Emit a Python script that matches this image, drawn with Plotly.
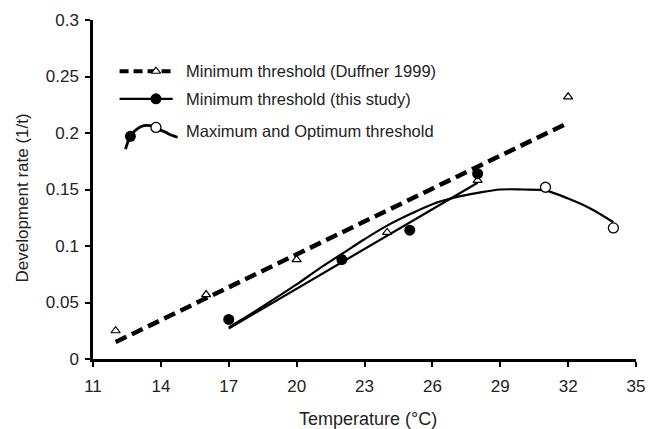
import plotly.graph_objects as go

# ---- data ----
temp_duffner = [12, 16, 20, 24, 28, 32]
rate_duffner = [0.025, 0.057, 0.088, 0.112, 0.158, 0.232]
fit_duffner_t = [12, 32]
fit_duffner_r = [0.015, 0.209]

temp_study = [17, 22, 25, 28]
rate_study = [0.035, 0.088, 0.114, 0.164]
fit_study_t = [17, 28]
fit_study_r = [0.027, 0.156]

temp_maxopt = [31, 34]
rate_maxopt = [0.152, 0.116]
curve_t = [17, 18, 19, 20, 21, 22, 23, 24, 25, 26, 27, 28, 29, 30, 31, 32, 33, 34]
curve_r = [0.028, 0.040, 0.053, 0.066, 0.080, 0.093, 0.106, 0.118, 0.128, 0.137,
           0.143, 0.147, 0.150, 0.150, 0.149, 0.142, 0.133, 0.121]

x_ticks = [11, 14, 17, 20, 23, 26, 29, 32, 35]
y_ticks = [0, 0.05, 0.1, 0.15, 0.2, 0.25, 0.3]
y_labels = ["0", "0.05", "0.1", "0.15", "0.2", "0.25", "0.3"]

legend_labels = ["Minimum threshold (Duffner 1999)",
                 "Minimum threshold (this study)",
                 "Maximum and Optimum threshold"]
x_title = "Temperature (°C)"
y_title = "Development rate (1/t)"

FONT = "Liberation Sans, Arial, sans-serif"
TXT = "#222222"

fig = go.Figure()

# fitted lines
fig.add_trace(go.Scatter(x=fit_duffner_t, y=fit_duffner_r, mode="lines",
                         line=dict(color="black", width=4.5, dash="12px,6px"),
                         showlegend=False))
fig.add_trace(go.Scatter(x=fit_study_t, y=fit_study_r, mode="lines",
                         line=dict(color="black", width=2.2), showlegend=False))
fig.add_trace(go.Scatter(x=curve_t, y=curve_r, mode="lines",
                         line=dict(color="black", width=2.2, shape="spline"),
                         showlegend=False))

# observations
fig.add_trace(go.Scatter(x=temp_duffner, y=rate_duffner, mode="markers",
                         marker=dict(symbol="triangle-up", size=8, color="white",
                                     line=dict(color="black", width=1.2)),
                         showlegend=False))
fig.add_trace(go.Scatter(x=temp_study, y=rate_study, mode="markers",
                         marker=dict(symbol="circle", size=11, color="black"),
                         showlegend=False))
fig.add_trace(go.Scatter(x=temp_maxopt, y=rate_maxopt, mode="markers",
                         marker=dict(symbol="circle", size=10, color="white",
                                     line=dict(color="black", width=1.3)),
                         showlegend=False))

# ---- hand-made legend on an overlay axis in pixel units ----
lx0, lx1, lxm = 120, 174, 157
rows_y = [67, 95, 128]
fig.add_trace(go.Scatter(x=[lx0, lx1], y=[rows_y[0]] * 2, mode="lines",
                         line=dict(color="black", width=4, dash="9px,5px"),
                         xaxis="x2", yaxis="y2", showlegend=False))
fig.add_trace(go.Scatter(x=[lxm], y=[rows_y[0]], mode="markers",
                         marker=dict(symbol="triangle-up", size=8, color="white",
                                     line=dict(color="black", width=1.2)),
                         xaxis="x2", yaxis="y2", showlegend=False))
fig.add_trace(go.Scatter(x=[lx0, lx1], y=[rows_y[1]] * 2, mode="lines",
                         line=dict(color="black", width=2.2),
                         xaxis="x2", yaxis="y2", showlegend=False))
fig.add_trace(go.Scatter(x=[lxm], y=[rows_y[1]], mode="markers",
                         marker=dict(symbol="circle", size=11, color="black"),
                         xaxis="x2", yaxis="y2", showlegend=False))
gx = [126, 128, 131, 136, 142, 148, 154, 160, 167, 173, 179]
gy = [146, 140, 133, 127, 123, 122, 123, 126, 129, 132, 134]
fig.add_trace(go.Scatter(x=gx, y=gy, mode="lines",
                         line=dict(color="black", width=2.8, shape="spline"),
                         xaxis="x2", yaxis="y2", showlegend=False))
fig.add_trace(go.Scatter(x=[131], y=[133], mode="markers",
                         marker=dict(symbol="circle", size=11, color="black"),
                         xaxis="x2", yaxis="y2", showlegend=False))
fig.add_trace(go.Scatter(x=[157], y=[124], mode="markers",
                         marker=dict(symbol="circle", size=10, color="white",
                                     line=dict(color="black", width=1.3)),
                         xaxis="x2", yaxis="y2", showlegend=False))
for lab, yy in zip(legend_labels, rows_y):
    fig.add_annotation(x=185, y=yy, xref="x2", yref="y2", text=lab,
                       showarrow=False, xanchor="left", yanchor="middle",
                       font=dict(family=FONT, size=16.5, color=TXT))

# axis titles placed as annotations (paper coordinates)
fig.add_annotation(x=0.507, y=-0.177, xref="paper", yref="paper", text=x_title,
                   showarrow=False, xanchor="center", yanchor="middle",
                   font=dict(family=FONT, size=18, color=TXT))
fig.add_annotation(x=-0.1304, y=0.474, xref="paper", yref="paper", text=y_title,
                   showarrow=False, xanchor="center", yanchor="middle", textangle=-90,
                   font=dict(family=FONT, size=17, color=TXT))

fig.update_layout(
    width=656, height=429,
    margin=dict(l=93, r=11, t=15, b=70),
    paper_bgcolor="white", plot_bgcolor="white",
    font=dict(family=FONT, size=17, color=TXT),
    xaxis=dict(range=[11, 35], tickvals=x_ticks, ticktext=[str(v) for v in x_ticks],
               showgrid=False, zeroline=False, showline=True, linecolor="black",
               linewidth=2.5, ticks="outside", ticklen=5, tickwidth=2, tickcolor="black",
               ticklabelstandoff=5,
               tickfont=dict(size=17, color=TXT)),
    yaxis=dict(range=[0, 0.3], tickvals=y_ticks, ticktext=y_labels,
               showgrid=False, zeroline=False, showline=True, linecolor="black",
               linewidth=2.5, ticks="outside", ticklen=5, tickwidth=2, tickcolor="black",
               ticklabelstandoff=3,
               tickfont=dict(size=17, color=TXT)),
    xaxis2=dict(range=[93, 645], overlaying="x", anchor="y2", visible=False),
    yaxis2=dict(range=[359, 15], overlaying="y", anchor="x2", visible=False),
)

fig.write_html("out.html")
